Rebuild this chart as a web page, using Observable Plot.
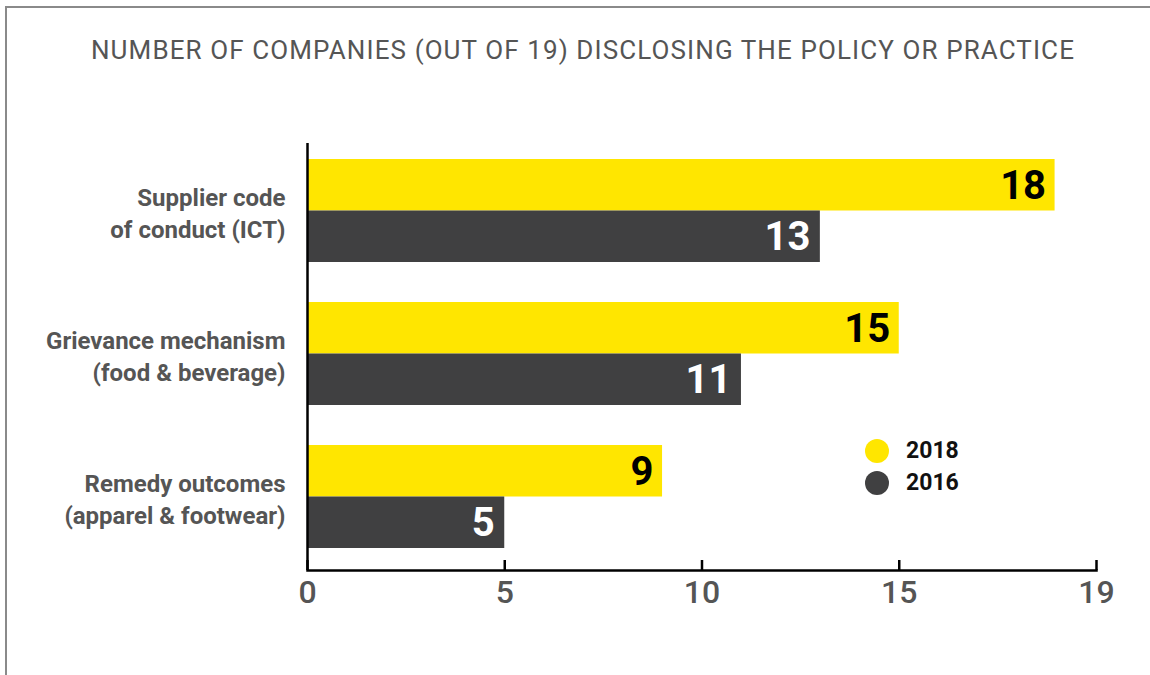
<!DOCTYPE html>
<html>
<head>
<meta charset="utf-8">
<script src="https://cdn.jsdelivr.net/npm/d3@7"></script>
<script src="https://cdn.jsdelivr.net/npm/@observablehq/plot@0.6"></script>
<style>
  html, body { margin: 0; padding: 0; background: #fff; }
  body { width: 1150px; height: 675px; position: relative; overflow: hidden; font-family: Roboto, "Noto Sans", sans-serif; }
  #border { position: absolute; left: 5px; top: 6px; width: 1200px; height: 700px; border-left: 2px solid #8a8a8a; border-top: 2px solid #8a8a8a; }
  #title { position: absolute; left: 0; width: 1166px; top: 35px; text-align: center; font-size: 26px; color: #555; letter-spacing: 1.1px; }
  #chart { position: absolute; left: 0; top: 0; }
  .leg { position: absolute; left: 865px; font-size: 23px; font-weight: bold; color: #111; display: flex; align-items: center; }
  .leg span.dot { width: 24px; height: 24px; border-radius: 50%; display: inline-block; margin-right: 17px; }
</style>
</head>
<body>
<div id="border"></div>
<div id="chart"></div>
<div id="title">NUMBER OF COMPANIES (OUT OF 19) DISCLOSING THE POLICY OR PRACTICE</div>
<div id="legend"></div>
<script>
const categories = ["Supplier code\nof conduct (ICT)", "Grievance mechanism\n(food & beverage)", "Remedy outcomes\n(apparel & footwear)"];
// labelled values
const values2018 = [18, 15, 9];
const values2016 = [13, 11, 5];
// bar lengths as drawn in the picture (the top bar reaches almost to the axis end)
const bars2018 = [18.95, 15, 9];
const bars2016 = [13, 11, 5];
const years = ["2018", "2016"];
const xTicks = [0, 5, 10, 15, 20];
const xTickLabels = ["0", "5", "10", "15", "19"];
const colors = {"2018": "#ffe600", "2016": "#404041"};

const d18 = categories.map((c, i) => ({cat: c, year: "2018", value: values2018[i], bar: bars2018[i]}));
const d16 = categories.map((c, i) => ({cat: c, year: "2016", value: values2016[i], bar: bars2016[i]}));

const chart = Plot.plot({
  width: 1150,
  height: 675,
  marginLeft: 307,
  marginRight: 54,
  marginTop: 143,
  marginBottom: 105,
  style: {fontFamily: "Roboto, sans-serif", background: "transparent"},
  x: {domain: [0, 20], axis: null},
  y: {domain: categories, range: [159, 548], paddingInner: 40 / 143, paddingOuter: 0, axis: null},
  marks: [
    Plot.barX(d18, {x: "bar", y: "cat", fill: colors["2018"], insetBottom: 51.5}),
    Plot.barX(d16, {x: "bar", y: "cat", fill: colors["2016"], insetTop: 51.5}),
    Plot.text(d18, {x: "bar", y: "cat", text: d => String(d.value), textAnchor: "end", dx: -9, dy: -25, fontSize: 40, fontWeight: "bold", fill: "#000"}),
    Plot.text(d16, {x: "bar", y: "cat", text: d => String(d.value), textAnchor: "end", dx: -10, dy: 26, fontSize: 40, fontWeight: "bold", fill: "#fff"}),
    Plot.text(categories, {y: d => d, text: d => d, frameAnchor: "left", textAnchor: "end", dx: -22, dy: 1, fontSize: 24, fontWeight: "bold", fill: "#555", lineHeight: 1.3}),
    Plot.ruleX([0], {stroke: "#000", strokeWidth: 2.5}),
    Plot.tickX(xTicks, {x: d => d, stroke: "#000", strokeWidth: 2.5, insetTop: 417}),
    Plot.frame({anchor: "bottom", stroke: "#000", strokeWidth: 2.5}),
    Plot.axisX(xTicks, {anchor: "bottom", label: null, tickSize: 0, tickPadding: 10, fontSize: 32, fontWeight: 500, fill: "#555", tickFormat: (d) => xTickLabels[xTicks.indexOf(d)]})
  ]
});
document.getElementById("chart").appendChild(chart);

const legend = document.getElementById("legend");
years.forEach((y, i) => {
  const div = document.createElement("div");
  div.className = "leg";
  div.style.top = (437 + i * 32) + "px";
  div.innerHTML = `<span class="dot" style="background:${colors[y]}"></span>${y}`;
  legend.appendChild(div);
});
</script>
</body>
</html>
